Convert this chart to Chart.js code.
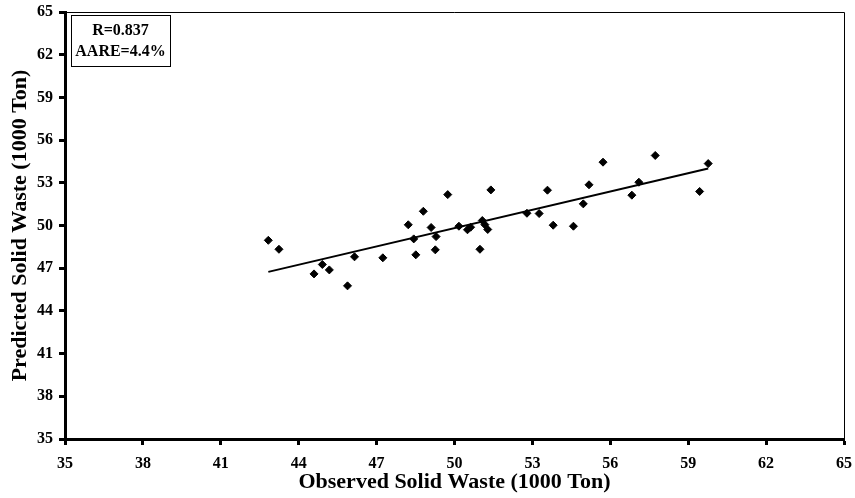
<!DOCTYPE html>
<html>
<head>
<meta charset="utf-8">
<script src="https://cdn.jsdelivr.net/npm/chart.js@4"></script>
<style>
  body { margin: 0; background: #fff; }
  canvas { display: block; }
</style>
</head>
<body>
<canvas id="grafico" width="855" height="498"></canvas>
<script>
// observed vs predicted (1000 Ton)
let observados = [42.83, 43.24, 44.59, 44.91, 45.18, 45.88, 46.15, 47.24, 48.22, 48.43,
    48.51, 48.8, 49.1, 49.29, 49.26, 49.74, 50.17, 50.5, 50.62, 50.98,
    51.07, 51.17, 51.28, 51.4, 52.79, 53.26, 53.58, 53.8, 54.58, 54.96,
    55.18, 55.72, 56.83, 57.1, 57.73, 59.44, 59.77];
let previstos = [48.96, 48.33, 46.6, 47.26, 46.88, 45.76, 47.8, 47.73, 50.05, 49.06,
    47.94, 51.0, 49.86, 49.22, 48.29, 52.17, 49.95, 49.7, 49.88, 48.33,
    50.35, 50.06, 49.72, 52.5, 50.86, 50.84, 52.48, 50.02, 49.95, 51.52,
    52.86, 54.45, 52.13, 53.04, 54.92, 52.39, 54.35];
let tendenciaX = [42.83, 59.77];
let tendenciaY = [46.74, 54.0];
let ticks = [35, 38, 41, 44, 47, 50, 53, 56, 59, 62, 65];
let textoCaixa = ["R=0.837", "AARE=4.4%"];

let fonte = "'Liberation Serif', 'Times New Roman', serif";

let pontos = observados.map((v, i) => ({ x: v, y: previstos[i] }));
let linha = tendenciaX.map((v, i) => ({ x: v, y: tendenciaY[i] }));

let moldura = {
    id: "moldura",
    afterDraw(chart) {
        let c = chart.ctx, a = chart.chartArea;
        c.save();
        c.strokeStyle = "#000";
        c.lineWidth = 1;
        c.beginPath();
        c.moveTo(a.left, a.top + 0.5);
        c.lineTo(a.right + 0.5, a.top + 0.5);
        c.lineTo(a.right + 0.5, a.bottom);
        c.stroke();
        // caixa com R e AARE
        let bx = a.left + 6, by = a.top + 3, bw = 99, bh = 51;
        c.fillStyle = "#fff";
        c.fillRect(bx, by, bw, bh);
        c.strokeRect(bx + 0.5, by + 0.5, bw, bh);
        c.fillStyle = "#000";
        c.font = "bold 16px " + fonte;
        c.textAlign = "center";
        c.textBaseline = "middle";
        c.fillText(textoCaixa[0], bx + bw / 2, by + 16);
        c.fillText(textoCaixa[1], bx + bw / 2, by + 37);
        c.restore();
    }
};

let semPadding = (s) => {
    s.paddingLeft = 0;
    s.paddingRight = 0;
    s.paddingTop = 0;
    s.paddingBottom = 0;
};

let eixo = (titulo, pad) => ({
    type: "linear",
    min: 35,
    max: 65,
    afterBuildTicks: (s) => { s.ticks = ticks.map(v => ({ value: v })); },
    grid: { display: true, drawOnChartArea: false, drawTicks: true, tickLength: 6, tickWidth: 3, tickColor: "#000" },
    border: { display: true, color: "#000", width: 3 },
    ticks: { color: "#000", font: { family: fonte, size: 16, weight: "bold" }, padding: pad, maxRotation: 0 },
    title: { display: true, text: titulo, color: "#000", font: { family: fonte, size: 22, weight: "bold" } }
});

let escX = eixo("Observed Solid Waste (1000 Ton)", 9);
escX.title.padding = { top: 0, bottom: 2 };
escX.afterFit = (s) => { s.height = 59; semPadding(s); };
let escY = eixo("Predicted Solid Waste (1000 Ton)", 6);
escY.title.padding = { top: 7, bottom: 0 };
escY.afterFit = (s) => { s.width = 65; semPadding(s); };

let ctx = document.getElementById("grafico").getContext("2d");
let grafico = new Chart(ctx, {
    type: "scatter",
    data: {
        datasets: [{
            data: pontos,
            pointStyle: "rectRot",
            pointRadius: 4,
            backgroundColor: "#000",
            borderColor: "#000",
            borderWidth: 1
        }, {
            type: "line",
            data: linha,
            borderColor: "#000",
            borderWidth: 2,
            pointRadius: 0,
            fill: false
        }]
    },
    options: {
        responsive: false,
        animation: false,
        layout: { padding: { top: 12, right: 11, left: 0, bottom: 0 } },
        plugins: { legend: { display: false }, tooltip: { enabled: false } },
        scales: { x: escX, y: escY }
    },
    plugins: [moldura]
});
</script>
</body>
</html>
